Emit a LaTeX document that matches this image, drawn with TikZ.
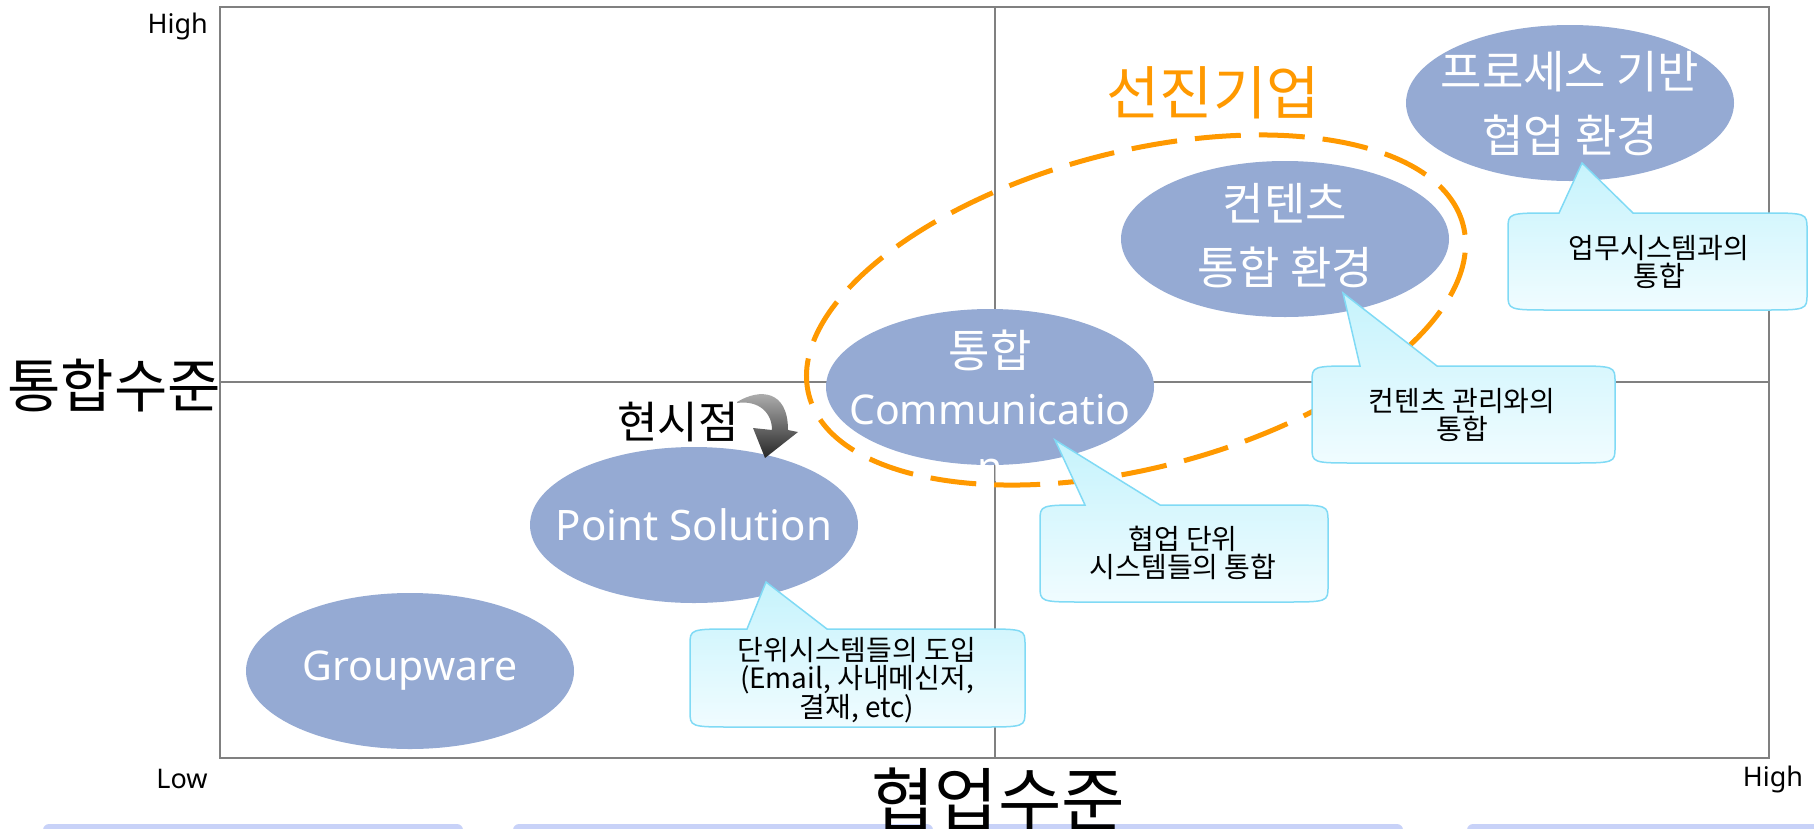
\documentclass[tikz,border=0pt]{standalone}
\usepackage{fontspec}
\setmainfont{Noto Sans CJK KR}
\newfontfamily\latinfont{Noto Sans}
\usetikzlibrary{shapes.geometric}

\definecolor{framegray}{RGB}{128,128,128}
\definecolor{blobblue}{RGB}{149,170,211}
\definecolor{leadorange}{RGB}{255,153,0}
\definecolor{tipedge}{RGB}{128,218,245}
\definecolor{tiptop}{RGB}{198,243,252}
\definecolor{tipbottom}{RGB}{240,252,255}
\definecolor{tabblue}{RGB}{200,210,248}

\tikzset{
  blob/.style={ellipse, fill=blobblue, minimum width=328pt, minimum height=156pt, inner sep=0pt},
  blobtext/.style={text=white, align=center, inner sep=0pt, font=\fontsize{45}{64}\selectfont},
  tiptext/.style={align=center, inner sep=0pt, font=\fontsize{28}{28}\selectfont},
  axisend/.style={inner sep=0pt, font=\latinfont\fontsize{27}{30}\selectfont},
  calloutbox/.style={draw=tipedge, line width=1.5pt, top color=tiptop, bottom color=tipbottom},
}

\begin{document}
\begin{tikzpicture}[x=1pt,y=-1pt]
  \useasboundingbox (0,0) rectangle (1814,828);
  % quadrant frame
  \draw[framegray, line width=2pt] (220,7) rectangle (1769,758);
  \draw[framegray, line width=2pt] (995,7) -- (995,758) (220,382) -- (1769,382);
  % tabs cut off at the bottom
  \foreach \xa/\xb in {43/463, 513/933, 983/1403, 1467/1880}
    \fill[tabblue, rounded corners=6pt] (\xa,824) rectangle (\xb,860);
  % axis labels
  \node[axisend, anchor=east] (yhigh) at (208,26) {High};
  \node[axisend] (xlow) at (182,779) {Low};
  \node[axisend] (xhigh) at (1773,779) {High};
  \node[inner sep=0pt, font=\fontsize{58}{64}\selectfont] (ylabel) at (114,386) {통합수준};
  \node[inner sep=0pt, anchor=north, font=\fontsize{69}{76}\selectfont] (xlabel) at (998,768) {협업수준};
  % stages
  \node[blob] (groupware) at (410,671) {};
  \node[blob] (point) at (694,525) {};
  \node[blob] (comm) at (990,387) {};
  \node[blob] (content) at (1285,239) {};
  \node[blob] (process) at (1570,103) {};
  \node[blobtext, font=\latinfont\fontsize{41}{63}\selectfont] (groupwaretext) at (groupware) {Groupware};
  \node[blobtext, font=\latinfont\fontsize{42}{63}\selectfont] (pointtext) at (point) {Point Solution};
  \node[blobtext, font=\fontsize{45}{57}\selectfont] (commtext) at (990,406)
    {통합\\{\latinfont\fontsize{41}{57}\selectfont Communicatio}\\{\latinfont\fontsize{41}{57}\selectfont n}};
  \node[blobtext] (contenttext) at (1285,236) {컨텐츠\\통합 환경};
  \node[blobtext] (processtext) at (1570,104) {프로세스 기반\\협업 환경};
  % leading companies
  \draw[leadorange, line width=5pt, dash pattern=on 46pt off 18pt]
    (1136,310) circle [x radius=338pt, y radius=158pt, rotate=14.6];
  \node[text=leadorange, inner sep=0pt, font=\fontsize{58}{64}\selectfont] (leaders) at (1213,93) {선진기업};
  % current position
  \node[inner sep=0pt, font=\fontsize{44}{50}\selectfont] (now) at (678,422) {현시점};
  \shade[top color=gray!55, bottom color=black!85]
    (737,402) .. controls (760,388) and (788,390) .. (788,430) -- (798,432) -- (765,458)
    -- (753,428) -- (772,430) .. controls (772,412) and (758,400) .. (737,403) -- cycle;
  % callouts
  \foreach \l/\t/\r/\b/\pa/\pb/\tx/\ty in {690/629/1025/727/747/827/766/582,
      1040/505/1328/602/1085/1160/1055/440, 1312/366/1615/463/1360/1437/1343/293,
      1508/213/1807/310/1559/1633/1582/163}
    \draw[calloutbox] ({\l},{\b-16}) -- ({\l},{\t+16}) .. controls ({\l},{\t}) .. ({\l+45},{\t})
      -- ({\pa},{\t}) -- ({\tx},{\ty}) -- ({\pb},{\t}) -- ({\r-45},{\t})
      .. controls ({\r},{\t}) .. ({\r},{\t+16}) -- ({\r},{\b-16})
      .. controls ({\r},{\b}) .. ({\r-45},{\b}) -- ({\l+45},{\b})
      .. controls ({\l},{\b}) .. ({\l},{\b-16}) -- cycle;
  \node[tiptext] (pointnote) at (857,680) {단위시스템들의 도입\\(Email, 사내메신저,\\결재, etc)};
  \node[tiptext] (commnote) at (1183,553) {협업 단위\\시스템들의 통합};
  \node[tiptext] (contentnote) at (1462,415) {컨텐츠 관리와의\\통합};
  \node[tiptext] (processnote) at (1659,262) {업무시스템과의\\통합};
\end{tikzpicture}
\end{document}
